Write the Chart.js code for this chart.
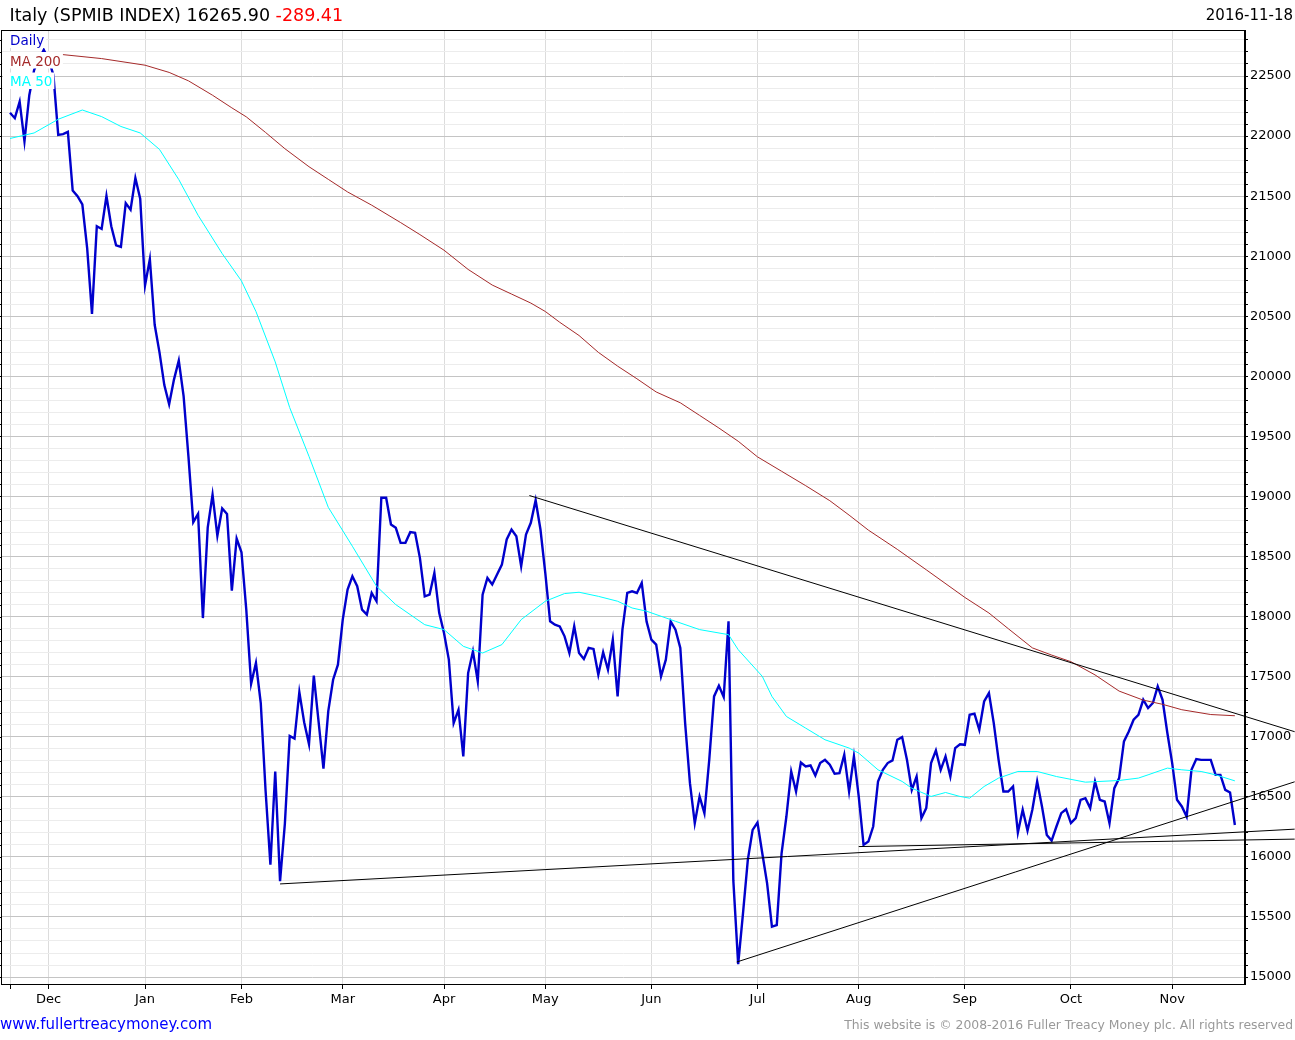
<!DOCTYPE html>
<html>
<head>
<meta charset="utf-8">
<title>Italy (SPMIB INDEX)</title>
<script src="https://cdn.jsdelivr.net/npm/chart.js@4.4.0/dist/chart.umd.min.js"></script>
<style>
  html, body { margin: 0; padding: 0; background: #fff; }
  #wrap { width: 1295px; height: 1040px; }
</style>
</head>
<body>
<div id="wrap"><canvas id="chart" width="1295" height="1040"></canvas></div>
<script>
// Italy (SPMIB INDEX) daily chart, 2015-11-19 .. 2016-11-18
// x values are trading-day numbers (0 = first day on the chart)

const monthStartDay = [0, 8, 28, 48, 69, 90, 111, 133, 155, 176, 198, 220, 241];
const monthLabels = ['', 'Dec', 'Jan', 'Feb', 'Mar', 'Apr', 'May', 'Jun', 'Jul', 'Aug', 'Sep', 'Oct', 'Nov'];

const priceLabels = [15000, 15500, 16000, 16500, 17000, 17500, 18000, 18500, 19000, 19500, 20000, 20500, 21000, 21500, 22000, 22500];

// daily close, one value per trading day
const dailyClose = [
  22194, 22149, 22286, 21957, 22340, 22550, 22640, 22717, 22640, 22508,
  22010, 22016, 22035, 21547, 21500, 21432, 21068, 20520, 21250, 21227,
  21501, 21250, 21090, 21077, 21442, 21387, 21651, 21478, 20757, 20976,
  20429, 20200, 19927, 19767, 19973, 20132, 19836, 19334, 18786, 18855,
  17988, 18741, 19015, 18673, 18900, 18855, 18216, 18650, 18536, 18057,
  17441, 17614, 17281, 16551, 15935, 16711, 15798, 16277, 17007, 16985,
  17372, 17121, 16939, 17509, 17121, 16734, 17213, 17475, 17600, 17975,
  18225, 18336, 18253, 18058, 18017, 18197, 18128, 18989, 18989, 18767,
  18739, 18614, 18614, 18703, 18697, 18489, 18169, 18183, 18364, 18031,
  17864, 17642, 17114, 17225, 16836, 17530, 17711, 17461, 18183, 18322,
  18267, 18350, 18433, 18642, 18725, 18669, 18419, 18683, 18781, 18969,
  18725, 18364, 17961, 17933, 17919, 17836, 17697, 17919, 17697, 17647,
  17739, 17731, 17517, 17703, 17558, 17808, 17336, 17892, 18197, 18211,
  18197, 18281, 17960, 17808, 17767, 17503, 17642, 17961, 17892, 17739,
  17114, 16614, 16280, 16503, 16364, 16808, 17336, 17425, 17331, 17961,
  15800, 15108, 15530, 15975, 16225, 16286, 16030, 15780, 15419, 15433,
  16030, 16336, 16711, 16544, 16786, 16753, 16761, 16678, 16781, 16808,
  16767, 16692, 16697, 16850, 16544, 16836, 16503, 16100, 16128, 16253,
  16628, 16725, 16781, 16803, 16975, 16997, 16808, 16558, 16669, 16322,
  16406, 16781, 16886, 16725, 16836, 16669, 16906, 16938, 16933, 17183,
  17192, 17058, 17294, 17364, 17114, 16808, 16544, 16544, 16586, 16203,
  16392, 16219, 16392, 16628, 16419, 16183, 16136, 16253, 16364, 16397,
  16281, 16322, 16475, 16489, 16406, 16628, 16475, 16461, 16281, 16572,
  16656, 16961, 17044, 17142, 17183, 17308, 17239, 17281, 17419, 17308,
  17031, 16781, 16475, 16420, 16336, 16725, 16814, 16808, 16808, 16808,
  16683, 16683, 16558, 16536, 16265.9
];

// moving averages, read at sample days
const ma200Day = [0, 6, 11, 19, 28, 33, 37, 42, 46, 49, 53, 57, 62, 66, 70, 75, 81, 85, 90, 95, 100, 104, 108, 111, 114, 118, 122, 126, 130, 134, 139, 143, 147, 151, 155, 160, 165, 170, 174, 178, 184, 190, 198, 203, 207, 212, 216, 220, 225, 230, 235, 239, 243, 249, 254];
const ma200Val = [22690, 22688, 22678, 22645, 22590, 22530, 22460, 22340, 22235, 22160, 22030, 21895, 21745, 21640, 21535, 21425, 21280, 21180, 21050, 20890, 20760, 20685, 20610, 20540, 20450, 20340, 20200, 20085, 19980, 19870, 19780, 19675, 19570, 19460, 19330, 19210, 19090, 18965, 18845, 18720, 18560, 18390, 18160, 18030, 17900, 17740, 17680, 17625, 17515, 17380, 17305, 17270, 17225, 17185, 17175];

const ma50Day = [0, 5, 10, 15, 19, 23, 27, 31, 35, 39, 44, 48, 51, 55, 58, 62, 66, 71, 76, 80, 86, 90, 94, 98, 102, 106, 111, 115, 118, 122, 126, 129, 132, 138, 143, 149, 151, 156, 158, 161, 165, 169, 174, 176, 180, 185, 187, 191, 194, 197, 199, 202, 205, 209, 213, 217, 223, 230, 234, 236, 240, 243, 247, 250, 254];
const ma50Val = [21980, 22026, 22140, 22217, 22162, 22080, 22026, 21889, 21638, 21341, 21022, 20794, 20540, 20120, 19740, 19334, 18910, 18586, 18253, 18100, 17933, 17892, 17753, 17697, 17767, 17975, 18128, 18192, 18203, 18169, 18128, 18072, 18045, 17961, 17892, 17850, 17725, 17503, 17336, 17169, 17072, 16975, 16906, 16864, 16725, 16628, 16572, 16503, 16536, 16503, 16489, 16586, 16656, 16711, 16711, 16669, 16622, 16636, 16656, 16683, 16739, 16725, 16711, 16683, 16633];

// hand-drawn trend lines (start / end)
const downTrendDay = [107.7, 266.4];
const downTrendVal = [19008, 17042];
const febSupportDay = [56, 266.4];
const febSupportVal = [15775, 16231];
const augSupportDay = [176, 266.4];
const augSupportVal = [16086, 16148];
const julTrendDay = [150.7, 266.4];
const julTrendVal = [15125, 16625];

const FONT = '"DejaVu Sans", Verdana, sans-serif';

function pts(days, vals) {
    return days.map((d, k) => ({ x: d, y: vals[k] }));
}

function trendSet(days, vals) {
    return {
        data: pts(days, vals),
        borderColor: '#000',
        borderWidth: 1,
        pointRadius: 0,
        clip: false,
    };
}

// --- Title, legend, frame, footer ---

const decor = {
    id: 'decor',
    beforeDraw(chart) {
        const ctx = chart.ctx;
        ctx.save();
        ctx.fillStyle = '#fff';
        ctx.fillRect(0, 0, chart.width, chart.height);
        ctx.restore();
    },
    afterDatasetsDraw(chart) {
        const ctx = chart.ctx;
        const items = [['Daily', '#0000cc', 45], ['MA 200', '#a52a2a', 65.5], ['MA 50', '#00ffff', 86]];
        ctx.save();
        ctx.font = '13.5px ' + FONT;
        ctx.textBaseline = 'alphabetic';
        items.forEach(([txt, col, base]) => {
            const w = ctx.measureText(txt).width;
            ctx.fillStyle = '#fff';
            ctx.fillRect(3, base - 13.5, w + 9, 16.5);
            ctx.fillStyle = col;
            ctx.fillText(txt, 10, base);
        });
        ctx.restore();
    },
    afterDraw(chart) {
        const ctx = chart.ctx;
        const a = chart.chartArea;
        const y = chart.scales.y;
        ctx.save();

        // frame
        ctx.strokeStyle = '#000';
        ctx.lineWidth = 1;
        ctx.strokeRect(a.left - 0.5, a.top + 0.5, a.right - a.left, a.bottom - a.top);

        // small ticks on the left edge
        ctx.beginPath();
        y.ticks.forEach(t => {
            const py = Math.round(y.getPixelForValue(t.value)) + 0.5;
            ctx.moveTo(0, py);
            ctx.lineTo(a.left, py);
        });
        ctx.stroke();

        // title
        ctx.textBaseline = 'alphabetic';
        ctx.font = '17.5px ' + FONT;
        ctx.fillStyle = '#000';
        const head = 'Italy (SPMIB INDEX) 16265.90 ';
        ctx.fillText(head, 9.5, 20.5);
        ctx.fillStyle = '#ff0000';
        ctx.fillText('-289.41', 9.5 + ctx.measureText(head).width, 20.5);

        ctx.font = '15px ' + FONT;
        ctx.fillStyle = '#000';
        ctx.textAlign = 'right';
        ctx.fillText('2016-11-18', 1293, 20);

        // footer
        ctx.font = '15px ' + FONT;
        ctx.textAlign = 'left';
        ctx.fillStyle = '#0000ff';
        ctx.fillText('www.fullertreacymoney.com', 0, 1029);

        ctx.font = '12.4px ' + FONT;
        ctx.textAlign = 'right';
        ctx.fillStyle = '#999';
        ctx.fillText('This website is \u00a9 2008-2016 Fuller Treacy Money plc. All rights reserved', 1293, 1029);

        ctx.restore();
    }
};

new Chart(document.getElementById('chart'), {
    type: 'line',
    data: {
        datasets: [
            trendSet(downTrendDay, downTrendVal),
            trendSet(febSupportDay, febSupportVal),
            trendSet(augSupportDay, augSupportVal),
            trendSet(julTrendDay, julTrendVal),
            { data: pts(ma200Day, ma200Val), borderColor: '#a52a2a', borderWidth: 1, pointRadius: 0 },
            { data: pts(ma50Day, ma50Val), borderColor: '#00ffff', borderWidth: 1, pointRadius: 0 },
            { data: dailyClose.map((v, i) => ({ x: i, y: v })), borderColor: '#0000cc', borderWidth: 2.4, pointRadius: 0 },
        ],
    },
    options: {
        responsive: false,
        animation: false,
        devicePixelRatio: 1,
        layout: { padding: { top: 30, left: 2, right: 0, bottom: 0 } },
        plugins: { legend: { display: false }, tooltip: { enabled: false } },
        elements: { line: { tension: 0 }, point: { radius: 0 } },
        scales: {
            x: {
                type: 'linear',
                min: -1.66,
                max: 256.1,
                afterBuildTicks: s => { s.ticks = monthStartDay.map(v => ({ value: v })); },
                afterFit: s => { s.height = 56; },
                ticks: {
                    autoSkip: false,
                    maxRotation: 0,
                    padding: 3,
                    color: '#000',
                    font: { family: FONT, size: 13 },
                    callback: v => monthLabels[monthStartDay.indexOf(v)] || '',
                },
                grid: { color: '#dcdcdc', tickColor: '#000', tickLength: 5 },
                border: { color: '#000' },
            },
            y: {
                type: 'linear',
                position: 'right',
                min: 14942,
                max: 22883,
                afterBuildTicks: s => {
                    const t = [];
                    for (let v = priceLabels[0]; v <= 22800; v += 100) t.push({ value: v });
                    s.ticks = t;
                },
                afterFit: s => { s.width = 50; },
                ticks: {
                    autoSkip: false,
                    padding: 2,
                    color: '#000',
                    font: { family: FONT, size: 13 },
                    callback: v => priceLabels.includes(v) ? String(v) : '',
                },
                grid: {
                    color: c => (c.tick && c.tick.value % 500 === 0) ? '#c4c4c4' : '#ececec',
                    tickColor: '#000',
                    tickLength: 3,
                },
                border: { color: '#000' },
            },
        },
    },
    plugins: [decor],
});
</script>
</body>
</html>
